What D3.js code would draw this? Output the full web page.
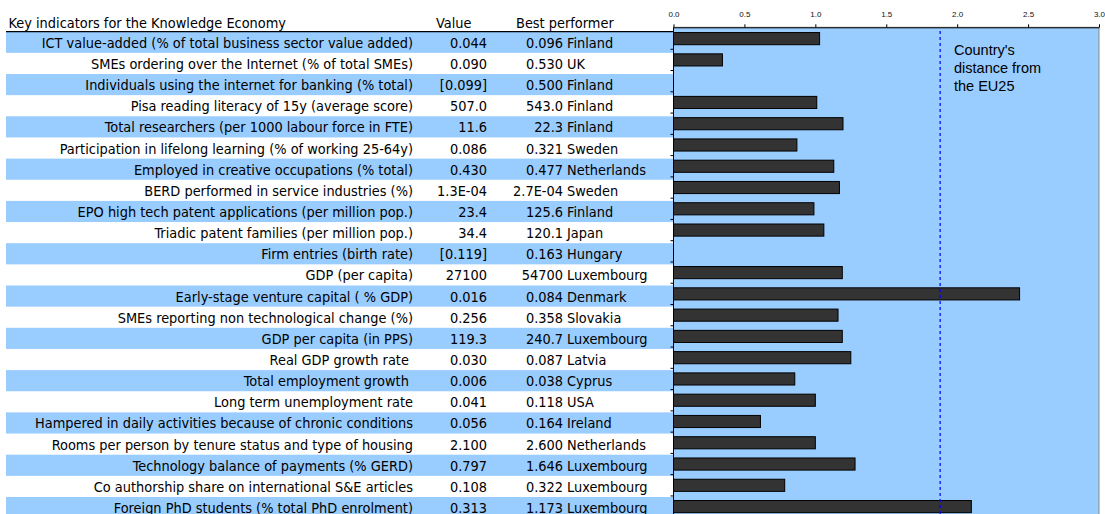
<!DOCTYPE html>
<meta charset="utf-8">
<style>
  body { margin: 0; background: #fff; }
  .tbl text { font-family: "DejaVu Sans Condensed", "DejaVu Sans", sans-serif; font-stretch: condensed; font-size: 14.4px; fill: #000; }
  .axis text { font-family: "Liberation Sans", Arial, sans-serif; font-size: 8px; fill: #111; }
  .axis .domain { stroke: #000; }
</style>
<body>
<script src="https://d3js.org/d3.v7.min.js"></script>
<script>
  var indicators = [
    "ICT value-added (% of total business sector value added)",
    "SMEs ordering over the Internet (% of total SMEs)",
    "Individuals using the internet for banking (% total)",
    "Pisa reading literacy of 15y (average score)",
    "Total researchers (per 1000 labour force in FTE)",
    "Participation in lifelong learning (% of working 25-64y)",
    "Employed in creative occupations (% total)",
    "BERD performed in service industries (%)",
    "EPO high tech patent applications (per million pop.)",
    "Triadic patent families (per million pop.)",
    "Firm entries (birth rate)",
    "GDP (per capita)",
    "Early-stage venture capital ( % GDP)",
    "SMEs reporting non technological change (%)",
    "GDP per capita (in PPS)",
    "Real GDP growth rate ",
    "Total employment growth ",
    "Long term unemployment rate",
    "Hampered in daily activities because of chronic conditions",
    "Rooms per person by tenure status and type of housing",
    "Technology balance of payments (% GERD)",
    "Co authorship share on international S&E articles",
    "Foreign PhD students (% total PhD enrolment)"
  ];

  var values = ["0.044", "0.090", "[0.099]", "507.0", "11.6", "0.086", "0.430", "1.3E-04",
    "23.4", "34.4", "[0.119]", "27100", "0.016", "0.256", "119.3", "0.030", "0.006",
    "0.041", "0.056", "2.100", "0.797", "0.108", "0.313"];

  var bestValues = ["0.096", "0.530", "0.500", "543.0", "22.3", "0.321", "0.477", "2.7E-04",
    "125.6", "120.1", "0.163", "54700", "0.084", "0.358", "240.7", "0.087", "0.038",
    "0.118", "0.164", "2.600", "1.646", "0.322", "1.173"];

  var bestCountries = ["Finland", "UK", "Finland", "Finland", "Finland", "Sweden", "Netherlands",
    "Sweden", "Finland", "Japan", "Hungary", "Luxembourg", "Denmark", "Slovakia", "Luxembourg",
    "Latvia", "Cyprus", "USA", "Ireland", "Netherlands", "Luxembourg", "Luxembourg", "Luxembourg"];

  // distance from EU25 (null = no bar)
  var distances = [1.03, 0.345, null, 1.01, 1.195, 0.87, 1.13, 1.17, 0.99, 1.06, null, 1.19,
    2.44, 1.16, 1.19, 1.25, 0.855, 1.0, 0.613, 1.0, 1.28, 0.784, 2.10];

  var xTicks = [0, 0.5, 1, 1.5, 2, 2.5, 3];
  var euLine = 1.88;
  var headers = ["Key indicators for the Knowledge Economy", "Value", "Best performer"];
  var noteLines = ["Country's", "distance from", "the EU25"];

  var W = 1105, H = 514;
  var blue = "#99ccff";

  var svg = d3.select("body").append("svg")
    .attr("width", W)
    .attr("height", H);

  var idx = d3.range(indicators.length);

  // table rows
  var yRow = d3.scaleBand()
    .domain(idx)
    .range([31.7, 31.7 + 23 * 21.15]);

  var tbl = svg.append("g").attr("class", "tbl");

  tbl.selectAll(".band")
    .data(idx.filter(function (i) { return i % 2 == 0; }))
    .enter()
    .append("rect")
    .attr("x", 6)
    .attr("y", function (i) { return yRow(i); })
    .attr("width", 674 - 6)
    .attr("height", yRow.bandwidth())
    .style("fill", blue);

  tbl.append("line")
    .attr("x1", 6).attr("x2", 674)
    .attr("y1", 31.7).attr("y2", 31.7)
    .style("stroke", "#000")
    .style("stroke-width", 1.2);

  tbl.append("text").attr("x", 8.5).attr("y", 28).text(headers[0]);
  tbl.append("text").attr("x", 436).attr("y", 28).text(headers[1]);
  tbl.append("text").attr("x", 516).attr("y", 28).text(headers[2]);

  var rows = tbl.selectAll(".row")
    .data(idx)
    .enter()
    .append("g")
    .attr("transform", function (i) {
      return "translate(0," + (yRow(i) + yRow.bandwidth() / 2 + 5.5) + ")";
    });

  rows.append("text")
    .attr("x", 413)
    .attr("text-anchor", "end")
    .attr("xml:space", "preserve")
    .text(function (i) { return indicators[i]; });

  rows.append("text")
    .attr("x", 487)
    .attr("text-anchor", "end")
    .text(function (i) { return values[i]; });

  rows.append("text")
    .attr("x", 563)
    .attr("text-anchor", "end")
    .text(function (i) { return bestValues[i]; });

  rows.append("text")
    .attr("x", 567)
    .text(function (i) { return bestCountries[i]; });

  // chart
  var x = d3.scaleLinear()
    .domain([0, 3])
    .range([673.5, 1099]);

  var y = d3.scaleBand()
    .domain(idx)
    .range([28, 28 + 23 * 21.27])
    .paddingInner(0.43)
    .paddingOuter(0.215);

  var yb = d3.scaleBand()
    .domain(idx)
    .range([28, 28 + 23 * 21.27]);

  svg.append("rect")
    .attr("x", x(0))
    .attr("y", 27.3)
    .attr("width", x(3) - x(0))
    .attr("height", H)
    .style("fill", blue)
    .style("stroke", "#888")
    .style("stroke-width", 1);

  svg.selectAll(".bar")
    .data(idx.filter(function (i) { return distances[i] != null; }))
    .enter()
    .append("rect")
    .attr("x", x(0))
    .attr("y", function (i) { return y(i); })
    .attr("width", function (i) { return x(distances[i]) - x(0); })
    .attr("height", y.bandwidth())
    .style("fill", "#333")
    .style("stroke", "#000")
    .style("stroke-width", 1);

  svg.append("line")
    .attr("x1", x(euLine)).attr("x2", x(euLine))
    .attr("y1", 31).attr("y2", H)
    .style("stroke", "#0000ff")
    .style("stroke-width", 1.2)
    .style("stroke-dasharray", "3,3");

  svg.append("g")
    .attr("class", "axis")
    .attr("transform", "translate(0,27.3)")
    .call(d3.axisTop(x).tickValues(xTicks).tickFormat(d3.format(".1f")).tickSize(3).tickSizeOuter(0).tickPadding(7));

  // left axis with ticks at category boundaries
  svg.append("line")
    .attr("x1", x(0)).attr("x2", x(0))
    .attr("y1", 27.3).attr("y2", H)
    .style("stroke", "#000");

  svg.selectAll(".ytick")
    .data(idx.slice(1))
    .enter()
    .append("line")
    .attr("x1", x(0) - 3).attr("x2", x(0))
    .attr("y1", function (i) { return yb(i); })
    .attr("y2", function (i) { return yb(i); })
    .style("stroke", "#000");

  svg.append("text")
    .style("font-family", "Liberation Sans, Arial, sans-serif")
    .style("font-size", "14.5px")
    .selectAll("tspan")
    .data(noteLines)
    .enter()
    .append("tspan")
    .attr("x", 954)
    .attr("y", function (d, i) { return 55 + i * 18; })
    .text(function (d) { return d; });
</script>
</body>
